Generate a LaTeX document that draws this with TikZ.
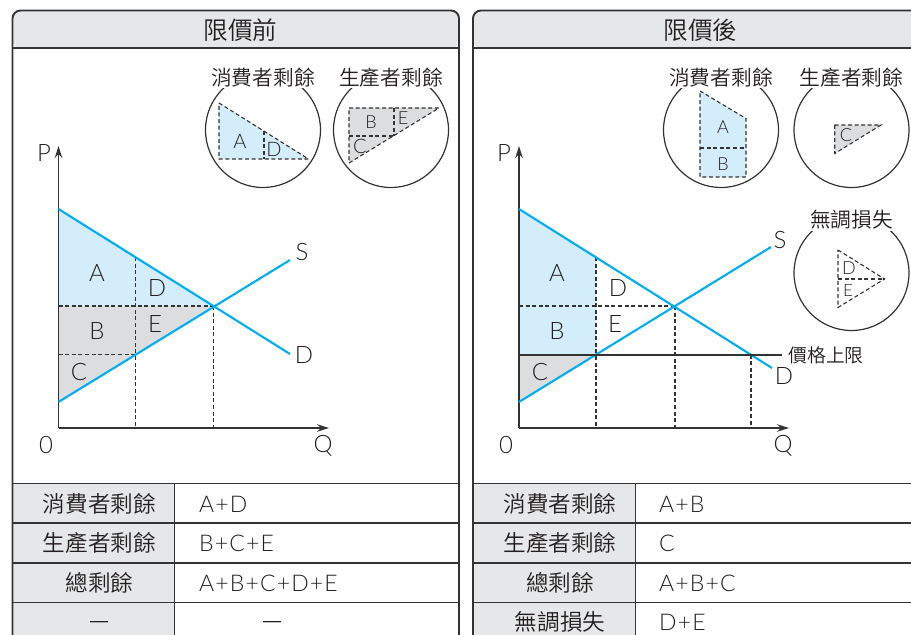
\documentclass[tikz,border=0pt]{standalone}
\usepackage{fontspec}
\usetikzlibrary{arrows.meta}
\setmainfont{Lato}[UprightFont=* Light]
\newfontfamily\tbl{Lato}[UprightFont=* Light,LetterSpace=5]
\newfontfamily\cjk{Noto Sans CJK TC}[UprightFont=* DemiLight]
\definecolor{ink}{HTML}{231F20}
\definecolor{linec}{HTML}{333334}
\definecolor{curve}{HTML}{00AEEF}
\definecolor{lblue}{HTML}{D3EDFB}
\definecolor{lgray}{HTML}{DCDDDE}
\definecolor{hgray}{HTML}{E6E7E8}
\newcommand{\fs}[1]{\fontsize{#1bp}{#1bp}\selectfont}
\tikzset{
  x=1bp,y=-1bp,
  panelbox/.style={draw=linec,line width=1.9bp,rounded corners=8bp},
  ruleline/.style={draw=linec,line width=1.5bp},
  dashline/.style={draw=linec,line width=1.1bp,dash pattern=on 4bp off 2.6bp},
  axisline/.style={draw=linec,line width=1.8bp,-{Stealth[length=12bp,width=7.5bp]}},
  ceilline/.style={draw=linec,line width=2bp},
  curveline/.style={draw=curve,line width=2.1bp},
  ring/.style={circle,draw=linec,line width=1.2bp,minimum size=115bp,inner sep=0pt},
  glab/.style={text=ink,font=\fs{24},inner sep=0pt},
  tlab/.style={text=ink,font=\tbl\fs{23},inner sep=0pt},
  tleft/.style={tlab,anchor=west},
  zh/.style={text=ink,font=\cjk\fs{22.6},inner sep=0pt},
  titlelab/.style={text=ink,font=\cjk\fs{24.6},inner sep=0pt},
  inhead/.style={text=ink,font=\cjk\fs{20.7},inner sep=1pt,fill=white},
  inlab/.style={text=ink,font=\fs{18},inner sep=0pt},
  pricelab/.style={text=ink,font=\cjk\fs{18.8},inner sep=0pt},
}
\begin{document}
\begin{tikzpicture}
\useasboundingbox (0,0) rectangle (911,635);
\clip (0,0) rectangle (911,635);
% ---------- left panel
\path[fill=hgray,rounded corners=8bp] (12.5,48) -- (12.5,10.5) -- (459,10.5) -- (459,48) -- cycle;
\fill[hgray] (12.5,483.5) rectangle (174.5,660);
\draw[ruleline] (12.5,48) -- (459,48);
\foreach \y in {483.5,523,563,602.5} \draw[ruleline] (12.5,\y) -- (459,\y);
\draw[ruleline] (174.5,483.5) -- (174.5,660);
\draw[panelbox] (12.5,660) -- (12.5,10.5) -- (459,10.5) -- (459,660);
\node[titlelab] (ltitle) at (240.5,30) {限價前};
\coordinate (lo) at (58.5,428);
\coordinate (lp) at (58.5,146);
\coordinate (lq) at (329,428);
\coordinate (ldt) at (58.5,209);
\coordinate (lde) at (290,354);
\coordinate (lss) at (58.5,402);
\coordinate (lse) at (290,260);
\coordinate (leq) at (213.5,306);
\coordinate (lpe) at (58.5,306);
\coordinate (lq1) at (135.5,257);
\coordinate (lq1s) at (135.5,354.5);
\coordinate (lp1) at (58.5,354.5);
\fill[lblue] (ldt) -- (leq) -- (lpe) -- cycle;
\fill[lgray] (lpe) -- (leq) -- (lss) -- cycle;
\draw[dashline] (lpe) -- (leq);
\draw[dashline] (lp1) -- (lq1s);
\draw[dashline] (lq1) -- (lq1 |- lo);
\draw[dashline] (leq) -- (leq |- lo);
\draw[axisline] (lo) -- (lp);
\draw[axisline] (lo) -- (lq);
\draw[curveline] (ldt) -- (lde);
\draw[curveline] (lss) -- (lse);
\node[glab] (la) at (97,273) {A};
\node[glab] (ld) at (157,288) {D};
\node[glab] (lb) at (97,331) {B};
\node[glab] (le) at (155,324) {E};
\node[glab] (lc) at (79,372) {C};
\node[glab] (ls2) at (302,252) {S};
\node[glab] (ld2) at (304,355) {D};
\node[glab] (lpl) at (44,153) {P};
\node[glab] (l0) at (46,445.5) {0};
\node[glab] (lql) at (323,446) {Q};
% left insets
\node[ring] (lc1) at (263,130) {};
\node[ring] (lc2) at (391,130) {};
\node[inhead] (lh1) at (263,77.5) {消費者剩餘};
\node[inhead] (lh2) at (391,77.5) {生產者剩餘};
\draw[dashline,fill=lblue] (219,103) -- (308.5,159) -- (219,159) -- cycle;
\draw[dashline] (264,131) -- (264,159);
\draw[dashline,fill=lgray] (349,108) -- (439,108) -- (349,163) -- cycle;
\draw[dashline] (349,136) -- (394,136);
\draw[dashline] (394,108) -- (394,136);
\node[inlab,font=\fs{20}] (li1) at (240,141) {A};
\node[inlab,font=\fs{20}] (li2) at (274,149) {D};
\node[inlab] (li3) at (371,122) {B};
\node[inlab] (li4) at (403,118) {E};
\node[inlab,font=\fs{20}] (li5) at (360,146) {C};
% left table
\node[zh] (lr1) at (99.5,504) {消費者剩餘};
\node[zh] (lr2) at (99.5,543) {生產者剩餘};
\node[zh] (lr3) at (99.5,583) {總剩餘};
\node[zh] (lr4) at (99.5,625) {—};
\node[tleft] (lv1) at (199,504) {A+D};
\node[tleft] (lv2) at (199,543.5) {B+C+E};
\node[tleft] (lv3) at (199,583) {A+B+C+D+E};
\node[zh] (lv4) at (273,625) {—};
% ---------- right panel
\path[fill=hgray,rounded corners=8bp] (473,48) -- (473,10.5) -- (930,10.5) -- (930,48) -- cycle;
\fill[hgray] (473,483.5) rectangle (635.5,660);
\draw[ruleline] (473,48) -- (930,48);
\foreach \y in {483.5,523,563,602.5} \draw[ruleline] (473,\y) -- (930,\y);
\draw[ruleline] (635.5,483.5) -- (635.5,660);
\draw[panelbox] (473,660) -- (473,10.5) -- (930,10.5) -- (930,660);
\node[titlelab] (rtitle) at (700.5,30) {限價後};
\coordinate (ro) at (519,428);
\coordinate (rp) at (519,146);
\coordinate (rq) at (789,428);
\coordinate (rdt) at (519,209);
\coordinate (rde) at (772,368);
\coordinate (rss) at (519,402);
\coordinate (rse) at (771,247);
\coordinate (req) at (675,306);
\coordinate (rpe) at (519,306);
\coordinate (rq1) at (596,257);
\coordinate (rq1s) at (596,354.5);
\coordinate (rp1) at (519,354.5);
\coordinate (rq3) at (751,354.5);
\coordinate (rce) at (782,354.5);
\fill[lblue] (rdt) -- (rq1) -- (rq1s) -- (rp1) -- cycle;
\fill[lgray] (rp1) -- (rq1s) -- (rss) -- cycle;
\draw[dashline] (rpe) -- (req);
\draw[dashline] (rq1) -- (rq1 |- ro);
\draw[dashline] (req) -- (req |- ro);
\draw[dashline] (rq3) -- (rq3 |- ro);
\draw[axisline] (ro) -- (rp);
\draw[axisline] (ro) -- (rq);
\draw[curveline] (rdt) -- (rde);
\draw[curveline] (rss) -- (rse);
\draw[ceilline] (rp1) -- (rce);
\node[glab] (ra) at (557,273) {A};
\node[glab] (rd) at (618,288) {D};
\node[glab] (rb) at (557,331) {B};
\node[glab] (re) at (615,324) {E};
\node[glab] (rc) at (540,372) {C};
\node[glab] (rs2) at (780,240) {S};
\node[glab] (rd2) at (784,376) {D};
\node[glab] (rpl) at (504,153) {P};
\node[glab] (r0) at (506,445.5) {0};
\node[glab] (rql) at (783,446) {Q};
\node[pricelab] (rcap) at (826,355) {價格上限};
% right insets
\node[ring] (rc1) at (721,130) {};
\node[ring] (rc2) at (851.5,130) {};
\node[ring] (rc3) at (851.5,273) {};
\node[inhead] (rh1) at (721,77.5) {消費者剩餘};
\node[inhead] (rh2) at (851.5,77.5) {生產者剩餘};
\node[inhead] (rh3) at (851.5,220) {無調損失};
\draw[dashline,fill=lblue] (700,91) -- (746,118.5) -- (746,177) -- (700,177) -- cycle;
\draw[dashline] (700,148) -- (746,148);
\draw[dashline,fill=lgray] (834.7,125) -- (881,125) -- (834.7,153.5) -- cycle;
\draw[dashline] (838,250) -- (884.5,279) -- (838,307.5) -- cycle;
\draw[dashline] (838,279) -- (884.5,279);
\node[inlab] (ri1) at (723,127) {A};
\node[inlab] (ri2) at (723,164) {B};
\node[inlab] (ri3) at (846,135) {C};
\node[inlab] (ri4) at (849,268) {D};
\node[inlab,font=\fs{17}] (ri5) at (848,290) {E};
% right table
\node[zh] (rr1) at (560,504) {消費者剩餘};
\node[zh] (rr2) at (560,543) {生產者剩餘};
\node[zh] (rr3) at (560,583) {總剩餘};
\node[zh] (rr4) at (560,622) {無調損失};
\node[tleft] (rv1) at (659,504) {A+B};
\node[tleft] (rv2) at (659,543.5) {C};
\node[tleft] (rv3) at (659,583) {A+B+C};
\node[tleft] (rv4) at (659,622) {D+E};
\end{tikzpicture}
\end{document}
